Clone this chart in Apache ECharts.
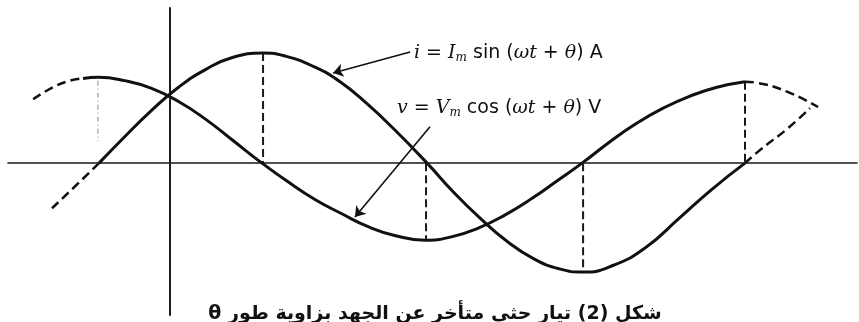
<!DOCTYPE html>
<html>
<head>
<meta charset="utf-8">
<script src="https://cdn.jsdelivr.net/npm/echarts@6/dist/echarts.min.js"></script>
<style>
  html, body { margin: 0; padding: 0; background: #ffffff; }
  #chart { width: 859px; height: 322px; }
</style>
</head>
<body>
<div id="chart"></div>
<script>
// Angle ωt in degrees (vertical axis at ωt = 0); amplitudes relative to Im.

// i = Im sin(ωt + θ): solid span plus dashed extensions either side
const currentSolid = [
  [-39.3, 0.00], [-25, 0.24], [-10, 0.48], [5, 0.69], [20, 0.85], [35, 0.96],
  [52.1, 1.00], [65, 0.97], [80, 0.88], [95, 0.74], [110, 0.54], [125, 0.31],
  [143.5, 0.00], [158, -0.26], [173, -0.50], [188, -0.71], [203, -0.87], [217, -0.96],
  [230.4, -0.99], [247, -0.93], [265, -0.77], [284, -0.50], [302, -0.24], [320.6, 0.00]
];
const currentDashLeft = [[-65.5, -0.41], [-52.6, -0.21], [-39.3, 0.00]];
const currentDashRight = [[320.6, 0.00], [329.0, 0.12], [344.0, 0.31], [356.8, 0.50]];

// v = Vm cos(ωt + θ)
const voltageSolid = [
  [-48.2, 0.77], [-39.8, 0.78], [-25, 0.75], [-10, 0.68], [5, 0.56], [20, 0.40],
  [35, 0.21], [51.5, 0.00], [66, -0.17], [81, -0.33], [96, -0.46], [111, -0.58],
  [126, -0.66], [142.3, -0.70], [157, -0.67], [172, -0.59], [187, -0.47], [202, -0.32],
  [216, -0.16], [229.8, 0.00], [245, 0.19], [260, 0.36], [275, 0.50], [290, 0.61],
  [305, 0.69], [320.6, 0.74]
];
const voltageDashLeft = [[-76.0, 0.58], [-64.9, 0.69], [-55.4, 0.75], [-48.2, 0.77]];
const voltageDashRight = [[320.6, 0.74], [327.3, 0.73], [344.0, 0.65], [361.3, 0.51]];

// Dashed drop lines from peaks / troughs to the ωt axis
const guideAngles = [-39.9, 52.1, 142.9, 230.4, 320.6];
const guideFrom   = [0.75, 1.00, 0.00, 0.00, 0.74];
const guideTo     = [0.20, 0.00, -0.70, -0.99, 0.00];
const guideFaint  = [true, false, false, false, false];

// Leader arrows for the two equations: [start, tip]
const currentArrow = [[134.0, 1.01], [91.1, 0.82]];
const voltageArrow = [[145.1, 0.33], [103.3, -0.49]];

const currentLabel = '{it|i} = {it|I}{sub|m} sin ({it|ωt} + {it|θ}) A';
const voltageLabel = '{it|v} = {it|V}{sub|m} cos ({it|ωt} + {it|θ}) V';
const captionText = 'شكل (2) تيار حثي متأخر عن الجهد بزاوية طور θ';

const INK = '#111111';

function curve(data, dashed) {
  return {
    type: 'line', data: data, smooth: 0.5, showSymbol: false, silent: true,
    lineStyle: { color: INK, width: dashed ? 2.5 : 3, type: dashed ? [9, 5] : 'solid' },
    z: 3
  };
}

function arrow(points) {
  return {
    type: 'lines', coordinateSystem: 'cartesian2d', silent: true,
    symbol: ['none', 'arrow'], symbolSize: 10,
    lineStyle: { color: INK, width: 1.6, opacity: 1, curveness: 0 },
    itemStyle: { color: INK },
    data: [{ coords: points }],
    z: 4
  };
}

const guideSeries = guideAngles.map(function (a, k) {
  return {
    type: 'line', data: [[a, guideFrom[k]], [a, guideTo[k]]],
    showSymbol: false, silent: true,
    lineStyle: guideFaint[k]
      ? { color: '#8a8a8a', width: 1, type: [5, 3, 1, 3] }
      : { color: '#1a1a1a', width: 2, type: [8, 4] },
    z: 2
  };
});

const richStyles = {
  it: { fontStyle: 'italic', fontSize: 19, fontFamily: 'DejaVu Serif', fill: INK },
  sub: { fontStyle: 'italic', fontSize: 12, fontFamily: 'DejaVu Serif', fill: INK, padding: [10, 0, 0, 0] }
};

const chart = echarts.init(document.getElementById('chart'), null, { renderer: 'canvas' });
chart.setOption({
  backgroundColor: '#ffffff',
  animation: false,
  grid: { left: 8, right: 2, top: 8, bottom: 7, containLabel: false },
  xAxis: {
    type: 'value', min: -90, max: 383,
    axisLine: { show: true, onZero: true, lineStyle: { color: '#1a1a1a', width: 1.6 } },
    axisTick: { show: false }, axisLabel: { show: false }, splitLine: { show: false }
  },
  yAxis: {
    type: 'value', min: -1.38, max: 1.41,
    axisLine: { show: true, onZero: true, lineStyle: { color: '#1a1a1a', width: 2 } },
    axisTick: { show: false }, axisLabel: { show: false }, splitLine: { show: false }
  },
  series: [
    curve(currentSolid, false),
    curve(currentDashLeft, true),
    curve(currentDashRight, true),
    curve(voltageSolid, false),
    curve(voltageDashLeft, true),
    curve(voltageDashRight, true),
    arrow(currentArrow),
    arrow(voltageArrow)
  ].concat(guideSeries),
  graphic: [
    {
      type: 'text', x: 414, y: 53, silent: true,
      style: {
        text: currentLabel, rich: richStyles,
        fontSize: 19, fontFamily: 'DejaVu Sans', fill: INK,
        verticalAlign: 'middle', align: 'left'
      }
    },
    {
      type: 'text', x: 397, y: 108, silent: true,
      style: {
        text: voltageLabel, rich: richStyles,
        fontSize: 19, fontFamily: 'DejaVu Sans', fill: INK,
        verticalAlign: 'middle', align: 'left'
      }
    },
    {
      type: 'text', x: 435, y: 314, silent: true,
      style: {
        text: '\u202B' + captionText + '\u202C',
        fontSize: 19, fontWeight: 'bold', fontFamily: 'DejaVu Sans', fill: INK,
        verticalAlign: 'middle', align: 'center'
      }
    }
  ]
});
</script>
</body>
</html>
